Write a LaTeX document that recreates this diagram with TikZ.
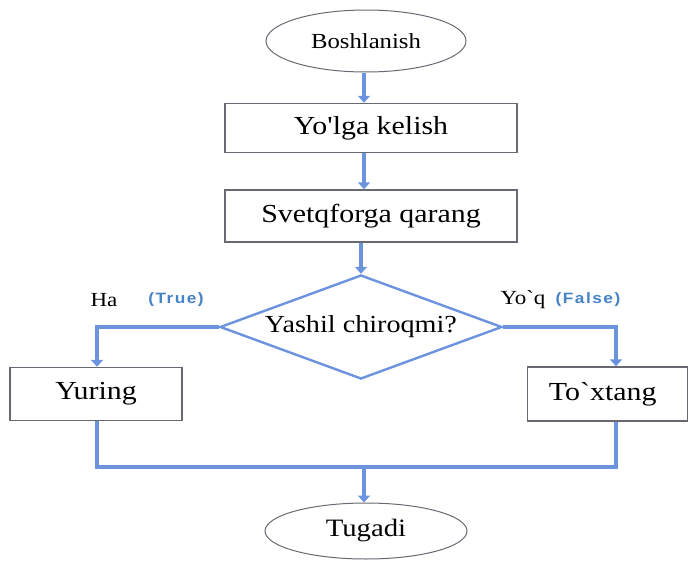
\documentclass[tikz,border=0pt]{standalone}
\usepackage{fontspec}
\setmainfont[FakeStretch=1.15,Ligatures=TeXOff]{Liberation Serif}
\newfontfamily\lblsans[FakeStretch=1.15,LetterSpace=10]{Liberation Sans}
\usetikzlibrary{shapes.geometric,arrows.meta}
\definecolor{conn}{RGB}{108,148,222}
\definecolor{boxline}{RGB}{105,105,115}
\definecolor{lblblue}{RGB}{70,130,200}
\tikzset{
  term/.style={ellipse,draw=boxline,line width=1pt,inner sep=0pt,font=\fontsize{25}{28}\selectfont},
  stepbox/.style={rectangle,draw=boxline,line width=1.4pt,inner sep=0pt,font=\fontsize{26}{28}\selectfont},
  decide/.style={diamond,draw=conn,line width=2.4pt,inner sep=0pt,font=\fontsize{24.5}{28}\selectfont},
  flow/.style={draw=conn,line width=3.2pt},
  arr/.style={flow,-{Triangle[length=7pt,width=12pt]}},
  yesno/.style={font=\fontsize{20}{24}\selectfont,inner sep=0pt},
  tf/.style={font=\lblsans\bfseries\fontsize{15}{17}\selectfont,text=lblblue,inner sep=0pt}
}
\begin{document}
\begin{tikzpicture}[x=1pt,y=-1pt]
\useasboundingbox (0,0) rectangle (688,562);
\node[term,minimum width=200pt,minimum height=62pt,font=\fontsize{21.5}{24}\selectfont] (start) at (366,41) {Boshlanish};
\node[stepbox,minimum width=292pt,minimum height=49pt] (b1) at (371,128) {Yo'lga kelish};
\node[stepbox,minimum width=292pt,minimum height=52pt] (b2) at (371,216) {Svetqforga qarang};
\node[decide,minimum width=282pt,minimum height=104pt,aspect=2.71] (dia) at (361,327) {Yashil chiroqmi?};
\node[stepbox,minimum width=172pt,minimum height=53pt] (yur) at (96,394) {Yuring};
\node[stepbox,minimum width=160pt,minimum height=54pt,anchor=west] (tox) at (527,394) {\hspace*{-10pt}To`xtang};
\node[term,minimum width=202pt,minimum height=56pt] (end) at (366,531) {Tugadi};
\coordinate (ml) at (97,467);
\coordinate (mr) at (616,467);
\coordinate (mm) at (364,467);
\node[yesno] (ha) at (104,300) {Ha};
\node[tf] (tru) at (176,300) {(True)};
\node[yesno] (yoq) at (523,300) {Yo`q};
\node[tf] (fal) at (588,300) {(False)};
\draw[arr] (start.south -| mm) -- (b1.north -| mm);
\draw[arr] (b1.south -| mm) -- (b2.north -| mm);
\draw[arr] (b2.south -| dia) -- (dia.north);
\draw[arr] (dia.west) -| (yur.north -| ml);
\draw[arr] (dia.east) -| (tox.north -| mr);
\draw[flow] (yur.south -| ml) -- (ml) -- (mr) -- (tox.south -| mr);
\draw[arr] (mm) -- (mm |- end.north);
\end{tikzpicture}
\end{document}
